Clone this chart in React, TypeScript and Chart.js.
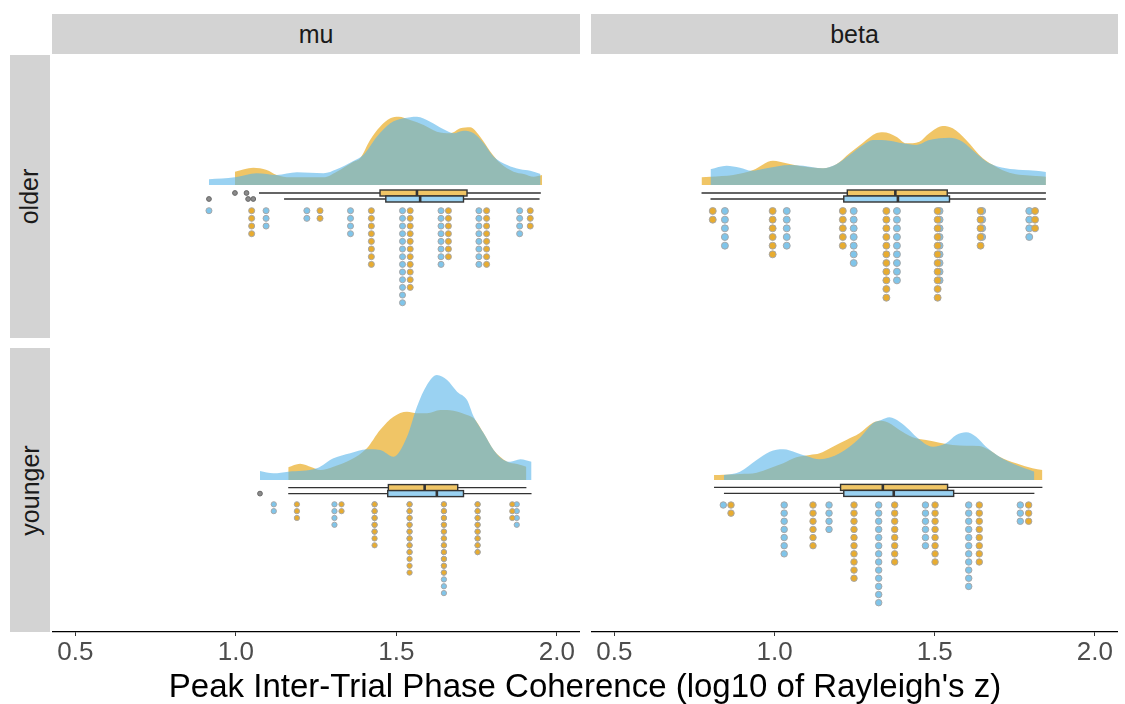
import React, { useEffect, useRef } from "react";
import { Chart, registerables } from "chart.js";
Chart.register(...registerables);

// ---------------- data ----------------
const COL_FACETS = ["mu", "beta"];
const ROW_FACETS = ["older", "younger"];
const X_TICKS = [0.5, 1.0, 1.5, 2.0];
const X_MIN = 0.427;
const X_MAX = 2.072;
const X_TITLE = "Peak Inter-Trial Phase Coherence (log10 of Rayleigh's z)";
const GROUPS = ["A", "B"]; // A = yellow, B = blue

// density curves (x, relative density)
const muOlderA_x = [0.997, 1.054, 1.096, 1.127, 1.169, 1.273, 1.314, 1.366, 1.387, 1.418, 1.449, 1.481, 1.507, 1.543, 1.585, 1.626, 1.668, 1.699, 1.730, 1.761, 1.793, 1.824, 1.865, 1.897, 1.928, 1.954];
const muOlderA_d = [1.33, 1.73, 1.50, 1.00, 0.77, 0.77, 1.33, 2.33, 2.67, 4.50, 5.83, 6.67, 6.83, 6.50, 6.00, 5.33, 5.17, 5.67, 5.77, 4.83, 3.33, 2.17, 1.33, 1.10, 0.83, 1.00];
const muOlderB_x = [0.916, 0.997, 1.065, 1.127, 1.190, 1.273, 1.314, 1.366, 1.397, 1.439, 1.481, 1.522, 1.564, 1.605, 1.647, 1.678, 1.709, 1.741, 1.772, 1.803, 1.845, 1.886, 1.917, 1.949];
const muOlderB_d = [0.57, 0.77, 1.17, 1.00, 1.27, 1.17, 1.57, 2.40, 3.00, 4.83, 6.17, 6.67, 6.83, 6.33, 5.57, 5.17, 5.43, 5.17, 4.17, 2.83, 2.00, 1.57, 1.43, 1.10];

const betaOlderA_x = [0.772, 0.800, 0.871, 0.933, 0.995, 1.037, 1.079, 1.151, 1.193, 1.234, 1.276, 1.317, 1.338, 1.380, 1.411, 1.452, 1.483, 1.525, 1.556, 1.598, 1.650, 1.691, 1.733, 1.774, 1.816, 1.847];
const betaOlderA_d = [0.77, 0.83, 1.00, 1.50, 2.43, 2.17, 1.90, 1.67, 2.07, 3.17, 4.23, 5.17, 5.27, 4.83, 4.17, 4.33, 5.17, 5.90, 5.67, 4.50, 2.67, 1.83, 1.23, 1.00, 0.90, 0.83];
const betaOlderB_x = [0.800, 0.850, 0.892, 0.928, 0.975, 1.047, 1.089, 1.151, 1.193, 1.234, 1.276, 1.307, 1.359, 1.400, 1.442, 1.483, 1.546, 1.587, 1.629, 1.670, 1.722, 1.774, 1.816, 1.847];
const betaOlderB_d = [1.57, 1.93, 1.73, 1.43, 1.67, 2.00, 1.93, 1.67, 2.07, 3.00, 4.00, 4.50, 4.43, 4.17, 4.00, 4.50, 4.73, 4.33, 3.17, 2.17, 1.67, 1.50, 1.43, 1.30];

const muYoungerA_x = [1.163, 1.200, 1.236, 1.262, 1.304, 1.356, 1.408, 1.449, 1.491, 1.533, 1.564, 1.595, 1.637, 1.678, 1.720, 1.741, 1.772, 1.803, 1.845, 1.876, 1.905];
const muYoungerA_d = [1.27, 1.63, 1.27, 1.00, 1.33, 2.00, 3.17, 5.00, 6.33, 6.83, 6.67, 6.67, 7.00, 6.93, 6.50, 6.17, 4.67, 3.00, 1.83, 1.60, 1.33];
const muYoungerB_x = [1.075, 1.117, 1.163, 1.252, 1.304, 1.356, 1.408, 1.449, 1.491, 1.533, 1.564, 1.595, 1.626, 1.658, 1.689, 1.720, 1.741, 1.772, 1.803, 1.834, 1.855, 1.886, 1.921];
const muYoungerB_d = [0.90, 0.67, 0.83, 1.17, 2.17, 2.67, 3.07, 3.00, 2.33, 4.33, 7.33, 9.50, 10.50, 10.00, 8.83, 8.00, 6.33, 4.67, 3.00, 2.00, 1.83, 2.07, 1.83];

const betaYoungerA_x = [0.811, 0.842, 0.892, 0.944, 0.985, 1.027, 1.068, 1.110, 1.141, 1.182, 1.224, 1.265, 1.307, 1.333, 1.359, 1.390, 1.431, 1.473, 1.515, 1.556, 1.598, 1.639, 1.670, 1.702, 1.754, 1.805, 1.836];
const betaYoungerA_d = [0.50, 0.53, 0.60, 0.73, 1.17, 1.67, 2.27, 2.50, 2.67, 3.33, 4.00, 4.67, 5.73, 5.93, 5.67, 5.00, 4.27, 4.00, 3.73, 3.50, 3.43, 3.40, 3.00, 2.33, 1.67, 1.17, 1.00];
const betaYoungerB_x = [0.842, 0.892, 0.944, 0.985, 1.027, 1.068, 1.099, 1.141, 1.203, 1.265, 1.307, 1.333, 1.359, 1.390, 1.421, 1.442, 1.494, 1.535, 1.567, 1.598, 1.629, 1.660, 1.702, 1.754, 1.811];
const betaYoungerB_d = [0.50, 0.83, 2.00, 2.83, 3.07, 2.73, 2.40, 2.07, 2.67, 4.17, 5.67, 6.00, 6.27, 5.83, 5.00, 4.33, 3.33, 3.67, 4.50, 4.77, 4.33, 3.33, 2.33, 1.50, 0.83];

// dot plot bins (bin centre, count)
const muOlderA_bins = [1.049, 1.262, 1.422, 1.543, 1.662, 1.781, 1.917];
const muOlderA_counts = [4, 2, 8, 11, 7, 8, 3];
const muOlderB_bins = [0.916, 1.094, 1.221, 1.357, 1.519, 1.639, 1.757, 1.884];
const muOlderB_counts = [1, 3, 2, 4, 13, 8, 8, 4];
const betaOlderA_bins = [0.807, 0.994, 1.213, 1.349, 1.509, 1.643, 1.813];
const betaOlderA_counts = [2, 6, 5, 11, 11, 5, 3];
const betaOlderB_bins = [0.845, 1.038, 1.247, 1.382, 1.515, 1.648, 1.795];
const betaOlderB_counts = [5, 5, 7, 9, 9, 4, 4];
const muYoungerA_bins = [1.190, 1.329, 1.432, 1.541, 1.648, 1.753, 1.861];
const muYoungerA_counts = [3, 2, 7, 11, 11, 8, 3];
const muYoungerB_bins = [1.118, 1.307, 1.432, 1.541, 1.648, 1.753, 1.875];
const muYoungerB_counts = [2, 4, 5, 8, 14, 8, 4];
const betaYoungerA_bins = [0.864, 1.120, 1.248, 1.375, 1.501, 1.639, 1.793];
const betaYoungerA_counts = [2, 6, 10, 8, 8, 8, 3];
const betaYoungerB_bins = [0.840, 1.030, 1.170, 1.325, 1.471, 1.606, 1.767];
const betaYoungerB_counts = [1, 7, 4, 13, 6, 11, 3];

// box plot stats [lower whisker, q1, median, q3, upper whisker]
const muOlderA_box = [1.072, 1.449, 1.564, 1.720, 1.950];
const muOlderB_box = [1.150, 1.467, 1.574, 1.709, 1.946];
const betaOlderA_box = [0.772, 1.227, 1.377, 1.539, 1.847];
const betaOlderB_box = [0.800, 1.216, 1.385, 1.546, 1.847];
const muYoungerA_box = [1.163, 1.475, 1.588, 1.691, 1.905];
const muYoungerB_box = [1.163, 1.473, 1.626, 1.709, 1.921];
const betaYoungerA_box = [0.811, 1.206, 1.338, 1.540, 1.836];
const betaYoungerB_box = [0.842, 1.216, 1.372, 1.559, 1.811];

// box plot outliers
const muOlderA_out = [0.997, 1.033];
const muOlderB_out = [0.916, 1.038, 1.054];
const betaOlderA_out: number[] = [];
const betaOlderB_out: number[] = [];
const muYoungerA_out: number[] = [];
const muYoungerB_out = [1.075];
const betaYoungerA_out: number[] = [];
const betaYoungerB_out: number[] = [];

// ---------------- styles / layout ----------------
const FONT = "'Liberation Sans', Arial, Helvetica, sans-serif";
const COLOR_A_FILL = "rgba(230,159,0,0.6)";
const COLOR_B_FILL = "rgba(86,180,233,0.6)";
const DOT_A = "#E8AC30";
const DOT_B = "#80C5EA";
const DOT_EDGE = "rgba(165,165,165,0.95)";
const STRIP_BG = "#D3D3D3";
const DENS_PX = 10;
const AXIS_H = 44;
const BOX_HALF = 3;

type PanelLayout = {
  left: number; top: number; width: number; height: number; axis: boolean;
  below: number; above: number; dot0: number; dotStep: number; boxRows: [number, number];
};

const PANEL_DATA = [
  {
    layout: { left: 52, top: 55, width: 528, height: 283, axis: false, below: 153, above: 130, dot0: 25.7, dotStep: 7.67, boxRows: [8, 14] } as PanelLayout,
    A: { x: muOlderA_x, d: muOlderA_d, bins: muOlderA_bins, counts: muOlderA_counts, box: muOlderA_box, out: muOlderA_out },
    B: { x: muOlderB_x, d: muOlderB_d, bins: muOlderB_bins, counts: muOlderB_counts, box: muOlderB_box, out: muOlderB_out },
  },
  {
    layout: { left: 591, top: 55, width: 527, height: 283, axis: false, below: 153, above: 130, dot0: 26, dotStep: 8.67, boxRows: [8, 14] } as PanelLayout,
    A: { x: betaOlderA_x, d: betaOlderA_d, bins: betaOlderA_bins, counts: betaOlderA_counts, box: betaOlderA_box, out: betaOlderA_out },
    B: { x: betaOlderB_x, d: betaOlderB_d, bins: betaOlderB_bins, counts: betaOlderB_counts, box: betaOlderB_box, out: betaOlderB_out },
  },
  {
    layout: { left: 52, top: 348, width: 528, height: 284, axis: true, below: 152, above: 132, dot0: 24.3, dotStep: 6.83, boxRows: [7.6, 13.6] } as PanelLayout,
    A: { x: muYoungerA_x, d: muYoungerA_d, bins: muYoungerA_bins, counts: muYoungerA_counts, box: muYoungerA_box, out: muYoungerA_out },
    B: { x: muYoungerB_x, d: muYoungerB_d, bins: muYoungerB_bins, counts: muYoungerB_counts, box: muYoungerB_box, out: muYoungerB_out },
  },
  {
    layout: { left: 591, top: 348, width: 527, height: 284, axis: true, below: 152, above: 132, dot0: 25, dotStep: 8.14, boxRows: [7.4, 13.4] } as PanelLayout,
    A: { x: betaYoungerA_x, d: betaYoungerA_d, bins: betaYoungerA_bins, counts: betaYoungerA_counts, box: betaYoungerA_box, out: betaYoungerA_out },
    B: { x: betaYoungerB_x, d: betaYoungerB_d, bins: betaYoungerB_bins, counts: betaYoungerB_counts, box: betaYoungerB_box, out: betaYoungerB_out },
  },
];

function dotPoints(bins: number[], counts: number[], L: PanelLayout) {
  const pts: { x: number; y: number }[] = [];
  bins.forEach((b, i) => {
    for (let k = 0; k < counts[i]; k++) pts.push({ x: b, y: -(L.dot0 + k * L.dotStep) });
  });
  return pts;
}

function makeBoxPlugin(items: { box: number[]; row: number; fill: string }[]) {
  return {
    id: "rainBoxes",
    afterDatasetsDraw(chart: any) {
      const { ctx } = chart;
      const xs = chart.scales.x;
      const ys = chart.scales.y;
      const px = (v: number) => xs.getPixelForValue(v);
      ctx.save();
      items.forEach((it) => {
        const [lo, q1, med, q3, hi] = it.box;
        const yc = ys.getPixelForValue(-it.row);
        ctx.strokeStyle = "#333333";
        ctx.lineWidth = 1.4;
        ctx.beginPath();
        ctx.moveTo(px(lo), yc);
        ctx.lineTo(px(q1), yc);
        ctx.moveTo(px(q3), yc);
        ctx.lineTo(px(hi), yc);
        ctx.stroke();
        ctx.fillStyle = "#ffffff";
        ctx.fillRect(px(q1), yc - BOX_HALF, px(q3) - px(q1), 2 * BOX_HALF);
        ctx.fillStyle = it.fill;
        ctx.fillRect(px(q1), yc - BOX_HALF, px(q3) - px(q1), 2 * BOX_HALF);
        ctx.strokeRect(px(q1), yc - BOX_HALF, px(q3) - px(q1), 2 * BOX_HALF);
        ctx.lineWidth = 2.6;
        ctx.beginPath();
        ctx.moveTo(px(med), yc - BOX_HALF);
        ctx.lineTo(px(med), yc + BOX_HALF);
        ctx.stroke();
      });
      ctx.restore();
    },
  };
}

function Panel({ p }: { p: (typeof PANEL_DATA)[number] }) {
  const ref = useRef<HTMLCanvasElement | null>(null);
  const L = p.layout;
  const canvasH = L.height + (L.axis ? AXIS_H : 0);
  useEffect(() => {
    if (!ref.current) return;
    const rA = L.dotStep * 0.46 - 0.5;
    const datasets: any[] = [
      {
        type: "line", label: GROUPS[0] + " density",
        data: p.A.x.map((x, i) => ({ x, y: p.A.d[i] * DENS_PX })),
        fill: "origin", backgroundColor: COLOR_A_FILL, borderColor: "transparent", borderWidth: 0,
        pointRadius: 0, cubicInterpolationMode: "monotone", order: 6,
      },
      {
        type: "line", label: GROUPS[1] + " density",
        data: p.B.x.map((x, i) => ({ x, y: p.B.d[i] * DENS_PX })),
        fill: "origin", backgroundColor: COLOR_B_FILL, borderColor: "transparent", borderWidth: 0,
        pointRadius: 0, cubicInterpolationMode: "monotone", order: 5,
      },
      {
        type: "scatter", label: GROUPS[1] + " dots",
        data: dotPoints(p.B.bins, p.B.counts, L),
        pointRadius: rA, backgroundColor: DOT_B, borderColor: DOT_EDGE, borderWidth: 1, order: 3,
      },
      {
        type: "scatter", label: GROUPS[0] + " dots",
        data: dotPoints(p.A.bins, p.A.counts, L),
        pointRadius: rA, backgroundColor: DOT_A, borderColor: DOT_EDGE, borderWidth: 1, order: 2,
      },
      {
        type: "scatter", label: "outliers",
        data: [
          ...p.A.out.map((x) => ({ x, y: -L.boxRows[0] })),
          ...p.B.out.map((x) => ({ x, y: -L.boxRows[1] })),
        ],
        pointRadius: 2.4, backgroundColor: "#8a8a8a", borderColor: "#666666", borderWidth: 1, order: 1,
      },
    ];
    const xScale: any = {
      type: "linear", min: X_MIN, max: X_MAX, display: L.axis,
      afterBuildTicks: (ax: any) => { ax.ticks = X_TICKS.map((v) => ({ value: v })); },
      grid: { display: true, drawOnChartArea: false, drawTicks: true, tickLength: 4, tickColor: "#333333", tickWidth: 1 },
      border: { display: true, color: "#000000", width: 1.3 },
      ticks: {
        color: "#4D4D4D", font: { family: FONT, size: 26 }, padding: 1,
        maxRotation: 0, autoSkip: false,
        callback: (v: any) => Number(v).toFixed(1),
      },
    };
    if (L.axis) xScale.afterFit = (ax: any) => { ax.height = AXIS_H; };
    const chart = new Chart(ref.current, {
      type: "scatter",
      data: { datasets },
      options: {
        animation: false,
        responsive: false,
        maintainAspectRatio: false,
        layout: { padding: 0, autoPadding: false },
        plugins: { legend: { display: false }, tooltip: { enabled: false } },
        scales: {
          x: xScale,
          y: { type: "linear", min: -L.below, max: L.above, display: false },
        },
      } as any,
      plugins: [
        makeBoxPlugin([
          { box: p.A.box, row: L.boxRows[0], fill: COLOR_A_FILL },
          { box: p.B.box, row: L.boxRows[1], fill: COLOR_B_FILL },
        ]),
      ],
    });
    return () => chart.destroy();
  }, []);
  return (
    <canvas
      ref={ref}
      width={L.width}
      height={canvasH}
      style={{ position: "absolute", left: L.left, top: L.top, width: L.width, height: canvasH }}
    />
  );
}

export default function App() {
  const stripText: React.CSSProperties = {
    position: "absolute", background: STRIP_BG, color: "#1A1A1A", fontSize: 25,
    display: "flex", alignItems: "center", justifyContent: "center", fontFamily: FONT,
  };
  return (
    <div style={{ position: "absolute", left: 0, top: 0, width: 1125, height: 704, background: "#fff", fontFamily: FONT, overflow: "hidden" }}>
      <div style={{ ...stripText, left: 52, top: 14, width: 528, height: 40 }}>{COL_FACETS[0]}</div>
      <div style={{ ...stripText, left: 591, top: 14, width: 527, height: 40 }}>{COL_FACETS[1]}</div>
      <div style={{ ...stripText, left: 10, top: 55, width: 40, height: 283 }}>
        <span style={{ transform: "rotate(-90deg)", whiteSpace: "nowrap", display: "inline-block" }}>{ROW_FACETS[0]}</span>
      </div>
      <div style={{ ...stripText, left: 10, top: 348, width: 40, height: 284 }}>
        <span style={{ transform: "rotate(-90deg)", whiteSpace: "nowrap", display: "inline-block" }}>{ROW_FACETS[1]}</span>
      </div>
      {PANEL_DATA.map((p, i) => (
        <Panel key={i} p={p} />
      ))}
      <div style={{ position: "absolute", left: 52, width: 1066, top: 666, lineHeight: "40px", fontSize: 33, color: "#000", textAlign: "center", whiteSpace: "nowrap" }}>
        {X_TITLE}
      </div>
    </div>
  );
}
